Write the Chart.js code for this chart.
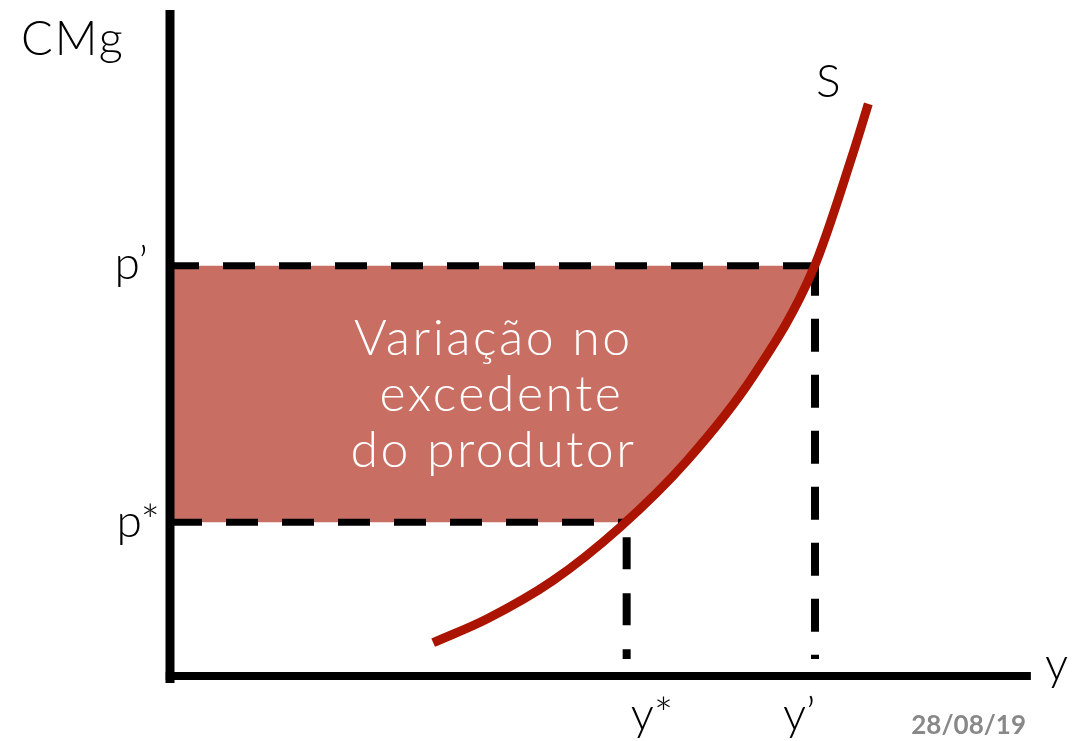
<!DOCTYPE html>
<html>
<head>
<meta charset="utf-8">
<script src="https://cdn.jsdelivr.net/npm/chart.js@4"></script>
<style>
  html, body { margin: 0; padding: 0; background: #fff; }
  #wrap { width: 1079px; height: 741px; position: relative; }
</style>
</head>
<body>
<div id="wrap"><canvas id="c"></canvas></div>
<script>
// values (axes run 0..100 in both directions)
var pStar = 23.1;
var pPrime = 61.6;
var yStar = 53.1;
var yPrime = 75.0;
var dashEnd = 2.55;

// supply curve S
var supplyX = [30.6, 36.9, 44.5, 52.3, 60.1, 67.8, 74.8, 79.4, 81.2];
var supplyY = [5.0, 8.6, 14.3, 22.3, 32.3, 45.0, 61.1, 78.4, 85.9];

var axisLabels = { y: 'CMg', x: 'y', curve: 'S' };
var priceLabels = ["p\u2019", 'p*'];
var qtyLabels = ['y*', "y\u2019"];
var areaText = ['Varia\u00e7\u00e3o no', ' excedente', 'do produtor'];
var dateText = '28/08/19';

var supply = supplyX.map(function (x, i) { return { x: x, y: supplyY[i] }; });

// shaded area: left of the curve, between p* and p'
var shade = [{ x: 0, y: pPrime }, { x: yPrime, y: pPrime }];
for (var i = supply.length - 1; i >= 0; i--) {
    var pt = supply[i];
    if (pt.y < pPrime && pt.y > pStar) shade.push({ x: pt.x, y: pt.y });
}
shade.push({ x: yStar - 0.2, y: pStar });
shade.push({ x: 0, y: pStar });

var FONT = 'Lato, "Open Sans", sans-serif';

var labelsPlugin = {
    id: 'labels',
    afterDatasetsDraw: function (chart) {
        var ctx = chart.ctx;
        var xs = chart.scales.x, ys = chart.scales.y;
        ctx.save();
        ctx.fillStyle = '#000';
        ctx.textBaseline = 'alphabetic';

        ctx.font = '300 47px ' + FONT;
        ctx.textAlign = 'left';
        ctx.letterSpacing = '2px';
        ctx.fillText(axisLabels.y, 21, 55);
        ctx.letterSpacing = '0px';
        ctx.font = '300 46px ' + FONT;
        ctx.fillText(axisLabels.x, 1045, 680);
        ctx.fillText(axisLabels.curve, 816, 97);

        // price labels left of the axis
        ctx.textAlign = 'right';
        ctx.fillText(priceLabels[0], 148, ys.getPixelForValue(pPrime) + 13);
        ctx.fillText(priceLabels[1], 160, ys.getPixelForValue(pStar) + 15);

        // quantity labels under the axis
        ctx.textAlign = 'left';
        ctx.fillText(qtyLabels[0], xs.getPixelForValue(yStar) + 4, 730);
        ctx.fillText(qtyLabels[1], xs.getPixelForValue(yPrime) - 32, 730);

        // text in the shaded area
        ctx.fillStyle = '#fff';
        ctx.textAlign = 'center';
        ctx.font = '300 50px ' + FONT;
        ctx.letterSpacing = '2.5px';
        var cx = xs.getPixelForValue(37.6);
        var base = ys.getPixelForValue(48.2);
        areaText.forEach(function (t, k) {
            ctx.fillText(t, cx, base + k * 56);
        });
        ctx.letterSpacing = '0px';

        ctx.fillStyle = '#888';
        ctx.font = 'bold 26px ' + FONT;
        ctx.textAlign = 'right';
        ctx.fillText(dateText, 1026, 734);
        ctx.restore();
    }
};

function seg(data, opts) {
    return Object.assign({
        data: data,
        borderColor: '#000',
        borderWidth: 8,
        pointRadius: 0,
        fill: false,
        tension: 0,
        clip: false,
        borderCapStyle: 'butt'
    }, opts);
}

new Chart(document.getElementById('c'), {
    type: 'line',
    data: {
        datasets: [
            seg(supply, { borderColor: '#ab1400', borderWidth: 9, cubicInterpolationMode: 'monotone', order: 1 }),
            seg([{ x: 0, y: -1.05 }, { x: 0, y: 100 }], { borderWidth: 9, order: 2 }),
            seg([{ x: -0.5, y: 0 }, { x: 100.1, y: 0 }], { order: 2 }),
            seg([{ x: 0, y: pPrime }, { x: yPrime, y: pPrime }], { borderWidth: 7, borderDash: [32, 24], borderDashOffset: 3, order: 3 }),
            seg([{ x: 0, y: pStar }, { x: yStar, y: pStar }], { borderWidth: 7, borderDash: [32, 24], order: 3 }),
            seg([{ x: yPrime, y: pPrime }, { x: yPrime, y: dashEnd }], { borderDash: [33, 23], borderDashOffset: 3, order: 3 }),
            seg([{ x: yStar, y: pStar }, { x: yStar, y: dashEnd }], { borderDash: [32, 24], borderDashOffset: 41, order: 3 }),
            seg(shade, { borderWidth: 0, borderColor: 'rgba(0,0,0,0)', backgroundColor: '#c96e63', fill: 'shape', order: 5 })
        ]
    },
    options: {
        responsive: true,
        maintainAspectRatio: false,
        animation: false,
        layout: { padding: { left: 170, right: 49, top: 10, bottom: 65 } },
        scales: {
            x: { type: 'linear', min: 0, max: 100, display: false },
            y: { type: 'linear', min: 0, max: 100, display: false }
        },
        plugins: { legend: { display: false }, tooltip: { enabled: false } }
    },
    plugins: [labelsPlugin]
});
</script>
</body>
</html>
